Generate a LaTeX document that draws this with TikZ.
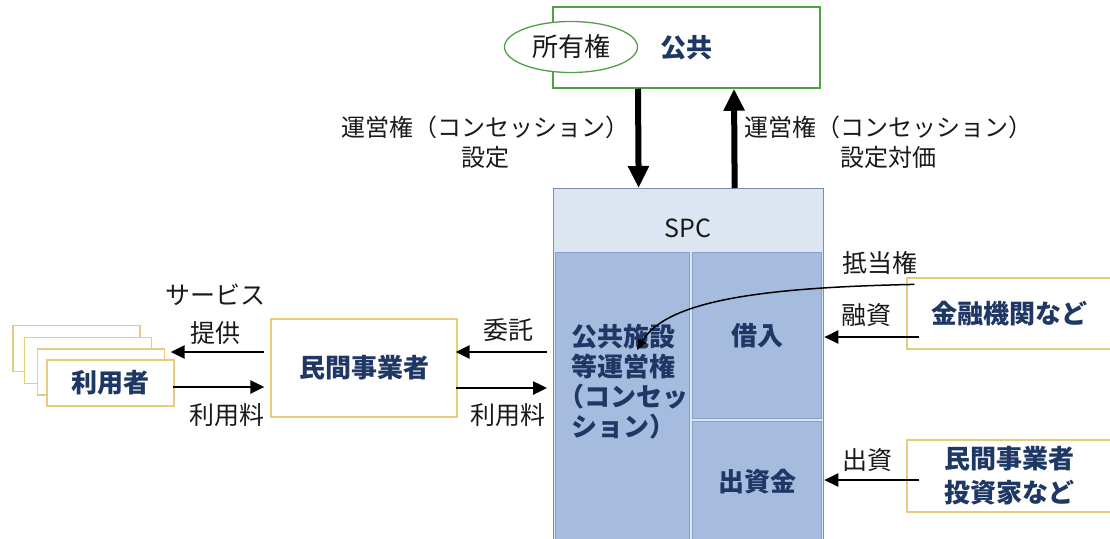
\documentclass[tikz,border=0pt]{standalone}
\usepackage{fontspec}
\setmainfont{Noto Sans CJK JP}
\usetikzlibrary{arrows.meta,shapes.geometric,calc}
\definecolor{tblue}{RGB}{30,55,100}
\definecolor{lblack}{RGB}{25,25,25}
\definecolor{kgreen}{RGB}{80,160,70}
\definecolor{gold}{RGB}{232,204,125}
\definecolor{spclight}{RGB}{220,230,242}
\definecolor{spcborder}{RGB}{125,142,178}
\definecolor{colfill}{RGB}{166,188,222}
\definecolor{colborder}{RGB}{135,160,205}
\begin{document}
\begin{tikzpicture}[x=1pt,y=-1pt,
  bluetext/.style={text=tblue,font=\fontsize{26}{31}\selectfont\bfseries},
  lbl/.style={text=lblack,font=\fontsize{25}{30}\selectfont,align=center},
  goldbox/.style={draw=gold,line width=1.2pt,fill=white,inner sep=0pt},
  colbox/.style={fill=colfill,draw=colborder,line width=1pt,inner sep=0pt,bluetext},
  thinarrow/.style={line width=2.5pt,-{Triangle[length=14pt,width=13pt]}},
  bigarrow/.style={line width=6pt,-{Triangle[length=22pt,width=20pt]}}]
\useasboundingbox (0,0) rectangle (1110,538);
\clip (0,0) rectangle (1110,538);

% public box
\node[draw=kgreen,line width=1.5pt,minimum width=267pt,minimum height=81pt,inner sep=0pt,bluetext] (koukyou) at (686.5,47.5) {公共};
\node[ellipse,draw=kgreen,line width=1.3pt,fill=white,minimum width=133pt,minimum height=51pt,inner sep=0pt,lbl,font=\fontsize{26}{30}\selectfont] (shoyuu) at (571,47) {所有権};

% SPC
\node[draw=spcborder,line width=1.3pt,fill=spclight,minimum width=270pt,minimum height=370pt,anchor=north west,inner sep=0pt] (spcout) at (553,188) {};
\node[text=lblack,font=\fontsize{25}{30}\selectfont] (spclabel) at (688,228) {SPC};
\node[colbox,minimum width=134pt,minimum height=290pt,anchor=north west] (colL) at (555,252) {};
\node[colbox,minimum width=129pt,minimum height=166pt,anchor=north west] (colRU) at (692,252) {借入};
\node[colbox,minimum width=129pt,minimum height=120pt,anchor=north west] (colRL) at (692,421) {出資金};
\node[bluetext,align=center,font=\fontsize{26}{30}\selectfont\bfseries] (concession) at (623,382) {公共施設\\等運営権\\（コンセッ\\ション）};

% big arrows
\draw[bigarrow] ($(koukyou.south)+(-48.5,0)$) -- ($(spcout.north)+(-50,0)$);
\draw[bigarrow] ($(spcout.north)+(46,0)$) -- ($(koukyou.south)+(47.5,0)$);
\node[lbl,font=\fontsize{24}{30}\selectfont] (setlbl) at (485,142) {運営権（コンセッション）\\設定};
\node[lbl,font=\fontsize{24}{30}\selectfont] (taikalbl) at (888,142) {運営権（コンセッション）\\設定対価};

% right side
\node[goldbox,minimum width=204pt,minimum height=71pt,bluetext] (kinyuu) at (1009,313.5) {金融機関など};
\node[goldbox,minimum width=204pt,minimum height=72pt,bluetext,align=center,font=\fontsize{26}{34}\selectfont\bfseries] (toushi) at (1009,476) {民間事業者\\投資家など};
\coordinate (yushiS) at ($(kinyuu.west)+(13,23.5)$);
\draw[thinarrow] (yushiS) -- (yushiS -| spcout.east);
\coordinate (shusshiS) at ($(toushi.west)+(13,4)$);
\draw[thinarrow] (shusshiS) -- (shusshiS -| spcout.east);
\coordinate (teitouS) at ($(kinyuu.north west)+(8,7)$);
\draw[line width=1.5pt,-{Triangle[length=11pt,width=9pt]}] (teitouS) .. controls +(-150,3) and +(30,-50) .. ($(concession.center)+(14,-32)$);
\node[lbl] (teitou) at (880,263) {抵当権};
\node[lbl] (yushi) at (866,315) {融資};
\node[lbl] (shusshi) at (867,460) {出資};

% left side
\node[goldbox,minimum width=127pt,minimum height=46pt] (user1) at (76.5,348.5) {};
\node[goldbox,minimum width=127pt,minimum height=46pt] (user2) at (88,360.5) {};
\node[goldbox,minimum width=127pt,minimum height=46pt] (user3) at (101,372) {};
\node[goldbox,minimum width=127pt,minimum height=46pt,bluetext] (user4) at (110.5,383) {利用者};
\node[goldbox,minimum width=186pt,minimum height=98pt,bluetext] (minkan) at (364,368) {民間事業者};

\coordinate (svcS) at ($(minkan.west)+(-6,-16)$);
\draw[thinarrow] (svcS) -- ($(svcS -| user4.east)+(-4,0)$);
\coordinate (feeS) at ($(user4.east)+(-2,4)$);
\draw[thinarrow] (feeS) -- ($(feeS -| minkan.west)+(-6,0)$);
\draw[thinarrow] ($(svcS -| spcout.west)+(-6,0)$) -- ($(svcS -| minkan.east)+(-2,0)$);
\draw[thinarrow] ($(feeS -| minkan.east)+(-2,1)$) -- ($(feeS -| spcout.west)+(-6,1)$);

\node[lbl,font=\fontsize{25}{38}\selectfont] (service) at (215,314) {サービス\\提供};
\node[lbl] (fee1) at (227,415) {利用料};
\node[lbl] (itaku) at (508,330) {委託};
\node[lbl] (fee2) at (508,415) {利用料};
\end{tikzpicture}
\end{document}
